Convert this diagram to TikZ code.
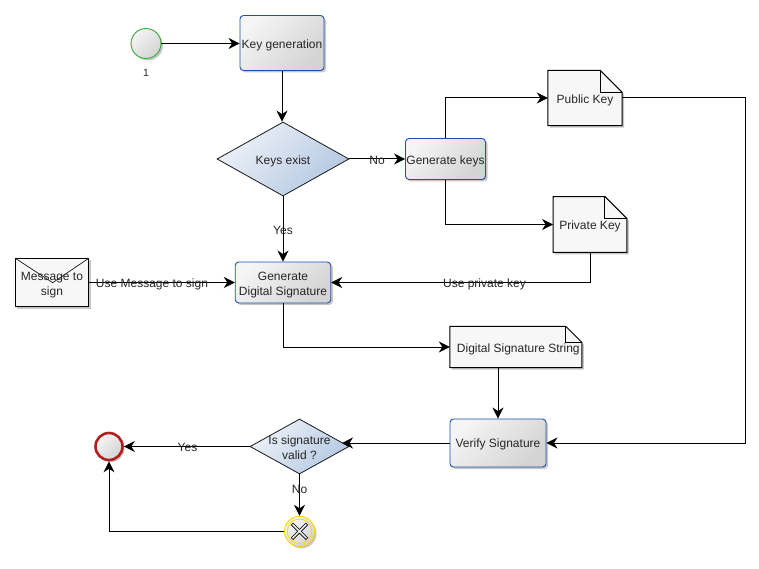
\documentclass[tikz,border=0pt]{standalone}
\usepackage{fontspec}
\setmainfont{Liberation Sans}
\usetikzlibrary{shapes.geometric,shadows,arrows.meta,calc}
\definecolor{bluebd}{HTML}{1F4FA8}
\definecolor{gatelight}{HTML}{EDF1F8}
\definecolor{gatedark}{HTML}{B4C8E2}
\definecolor{stopred}{HTML}{B02020}
\tikzset{
  txt/.style={font=\fontsize{12}{15}\selectfont,text=black!85,align=center,inner sep=0pt},
  softshadow/.style={drop shadow={shadow xshift=2pt,shadow yshift=-2pt,opacity=.22,fill=black}},
  task/.style={txt,draw=bluebd,line width=.9pt,rounded corners=3.5pt,rectangle,softshadow,
    shading=axis,top color=white!96!black,bottom color=black!17,shading angle=45},
  gate/.style={diamond,draw=black!90,line width=.8pt,inner sep=0pt,shading=axis,
    top color=gatelight,bottom color=gatedark,shading angle=45},
  docbox/.style={rectangle,inner sep=0pt},
  docshape/.style={draw=black,line width=1pt,fill=black!3,softshadow},
  circ/.style={circle,inner sep=0pt,softshadow,shading=axis,
    top color=white!96!black,bottom color=black!17,shading angle=45},
  conn/.style={draw=black,line width=1pt,-{Stealth[length=11pt,width=11pt,inset=3.5pt]}},
  lbl/.style={txt},
}
\begin{document}
\begin{tikzpicture}[x=1pt,y=-1pt]
\useasboundingbox[fill=white] (0,0) rectangle (759,569);
% events
\node[circ,draw=green!60!black!80,line width=.9pt,minimum size=30pt] (start) at (146,43.5) {};
\node[txt,font=\fontsize{10.5}{12}\selectfont] (n1) at (146,72.5) {1};
\node[circ,draw=stopred,line width=2.6pt,minimum size=27pt] (stop) at (109,446.5) {};
\node[circ,draw=yellow!75!orange,line width=1pt,minimum size=30pt] (cancel) at (299.5,531.3) {};
\draw[yellow!75!orange,line width=.8pt] (cancel) circle[radius=12.3pt];
\draw[black,line width=3.2pt] ($(cancel)+(-7.5,-7.5)$) -- ($(cancel)+(7.5,7.5)$)
  ($(cancel)+(-7.5,7.5)$) -- ($(cancel)+(7.5,-7.5)$);
\draw[white!92!black,line width=1.6pt] ($(cancel)+(-7,-7)$) -- ($(cancel)+(7,7)$)
  ($(cancel)+(-7,7)$) -- ($(cancel)+(7,-7)$);
% tasks
\node[task,minimum width=84pt,minimum height=55pt] (kg) at (282,43) {};
\node[task,minimum width=80pt,minimum height=41pt] (gk) at (445.5,159) {};
\node[task,minimum width=95.5pt,minimum height=41pt] (gds) at (283,282.5) {};
\node[task,minimum width=96pt,minimum height=48pt] (ver) at (498,443) {};
\node[txt,yshift=-2.5pt] at (kg) {Key generation};
\node[txt,yshift=-2pt] at (gk) {Generate keys};
\node[txt,yshift=-2.5pt] at (gds) {Generate\\Digital Signature};
\node[txt,yshift=-1pt] at (ver) {Verify Signature};
% gateways
\node[gate,minimum width=132pt,minimum height=74pt,label={[txt,yshift=-2pt]center:Keys exist}] (ke) at (283,159) {};
\node[gate,minimum width=99pt,minimum height=55pt,label={[txt,yshift=-1pt]center:Is signature\\valid ?}] (isv) at (299.5,446.5) {};
\coordinate (isvin) at (342,443);
% documents
\node[docbox,minimum width=74pt,minimum height=55pt] (pub) at (585,98) {};
\node[docbox,minimum width=73.5pt,minimum height=55.5pt] (priv) at (590,224.5) {};
\node[docbox,minimum width=131.5pt,minimum height=41pt] (dss) at (515.8,347) {};
\node[docbox,minimum width=73pt,minimum height=48pt] (msg) at (52,282.5) {};
\draw[docshape] (pub.north west) -- ($(pub.north east)+(-22,0)$) -- ($(pub.north east)+(0,22)$) -- (pub.south east) -- (pub.south west) -- cycle;
\draw[line width=1pt] ($(pub.north east)+(-22,0)$) -- ($(pub.north east)+(-22,22)$) -- ($(pub.north east)+(0,22)$);
\draw[docshape] (priv.north west) -- ($(priv.north east)+(-22,0)$) -- ($(priv.north east)+(0,22)$) -- (priv.south east) -- (priv.south west) -- cycle;
\draw[line width=1pt] ($(priv.north east)+(-22,0)$) -- ($(priv.north east)+(-22,22)$) -- ($(priv.north east)+(0,22)$);
\draw[docshape] (dss.north west) -- ($(dss.north east)+(-16,0)$) -- ($(dss.north east)+(0,16)$) -- (dss.south east) -- (dss.south west) -- cycle;
\draw[line width=1pt] ($(dss.north east)+(-16,0)$) -- ($(dss.north east)+(-16,16)$) -- ($(dss.north east)+(0,16)$);
\draw[docshape] (msg.north west) rectangle (msg.south east);
\draw[line width=.7pt,draw=black!90] (msg.north west) -- (52.7,282.7) -- (msg.north east);
\node[txt,yshift=-2pt] at (pub) {Public Key};
\node[txt,yshift=-2pt] at (priv) {Private Key};
\node[txt,xshift=2.5pt,yshift=-2pt] at (dss) {Digital Signature String};
\node[txt,yshift=-2.5pt] at (msg) {Message to\\sign};
% connectors
\coordinate (c1) at (745,98);
\draw[conn] (start) -- (start -| kg.west);
\draw[conn] (kg.south) -- (kg.south |- ke.north);
\draw[conn] (ke) -- (gk);
\draw[conn] (ke.south) -- (ke.south |- gds.north);
\draw[conn] (gk.north) |- (pub.west);
\draw[conn] (gk.south) |- (priv.west);
\draw[conn] (pub.east) -- (c1) |- (ver.east);
\draw[conn] (priv.south) |- (gds.east);
\draw[conn] (msg.east) -- (msg.east -| gds.west);
\draw[conn] (gds.south) |- (dss.west);
\draw[conn] (ver.north |- dss.south) -- (ver.north);
\draw[conn] (ver.west) -- (isvin);
\draw[conn] (isv.west) -- (stop);
\draw[conn] (isv.south) -- (cancel);
\draw[conn] (cancel) -| (stop.south);
% labels
\node[lbl] (l1) at (377,160.5) {No};
\node[lbl] (l2) at (283,230) {Yes};
\node[lbl] (l3) at (152,284) {Use Message to sign};
\node[lbl] (l4) at (484.5,284) {Use private key};
\node[lbl] (l5) at (187.5,447.5) {Yes};
\node[lbl] (l6) at (299.5,489.5) {No};
\end{tikzpicture}
\end{document}
